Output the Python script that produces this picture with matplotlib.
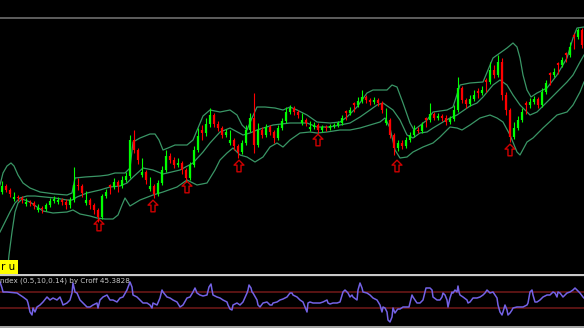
import matplotlib.pyplot as plt
from matplotlib.path import Path

# candle data in chart units (screen-like: smaller value = higher price)
candle_x = [2 + 4 * i for i in range(146)]
opens = [192, 186, 190, 199, 197, 198, 204, 202, 203, 210, 208, 209, 205, 201, 202, 200, 202, 205,
         200, 185, 186, 203, 200, 205, 210, 217, 196, 185, 187, 182, 186, 180, 176, 140, 150, 175,
         172, 189, 186, 194, 183, 170, 156, 160, 165, 163, 170, 178, 165, 150, 130, 133, 124, 115,
         124, 128, 135, 143, 140, 146, 152, 143, 130, 118, 145, 130, 135, 127, 132, 138, 128, 121,
         112, 108, 112, 123, 120, 129, 127, 125, 130, 127, 128, 126, 125, 123, 111, 113, 103, 105,
         101, 97, 100, 102, 100, 103, 123, 120, 135, 148, 143, 146, 140, 135, 130, 131, 118, 120,
         114, 118, 116, 118, 122, 119, 110, 88, 100, 104, 99, 91, 93, 80, 82, 70, 75, 62,
         95, 110, 137, 128, 120, 103, 105, 102, 99, 105, 92, 73, 75, 63, 65, 53, 55, 35,
         37, 30]
closes = [186, 190, 194, 197, 198, 200, 202, 203, 206, 208, 209, 205, 201, 199, 200, 202, 205, 200,
          185, 186, 193, 200, 205, 210, 217, 196, 192, 187, 182, 186, 180, 176, 140, 150, 160, 172,
          180, 186, 194, 183, 170, 156, 160, 165, 163, 170, 178, 165, 150, 136, 133, 124, 115, 124,
          128, 135, 132, 140, 146, 152, 143, 130, 118, 145, 130, 135, 127, 132, 138, 128, 121, 112,
          108, 112, 115, 120, 123, 127, 125, 130, 127, 128, 126, 125, 123, 118, 113, 110, 105, 101,
          97, 100, 102, 100, 103, 110, 120, 135, 148, 143, 146, 140, 135, 130, 131, 125, 120, 114,
          118, 116, 118, 122, 119, 110, 88, 100, 104, 99, 95, 93, 90, 82, 70, 75, 62, 95,
          110, 137, 128, 120, 112, 105, 102, 99, 105, 92, 83, 75, 72, 65, 60, 55, 47, 37,
          30, 45]
highs = [181, 184, 188, 192, 195, 196, 198, 200, 201, 204, 206, 203, 198, 196, 197, 198, 199, 197,
         167, 178, 184, 191, 198, 203, 208, 194, 189, 184, 178, 180, 176, 172, 135, 130, 148, 158,
         170, 177, 184, 180, 166, 150, 153, 157, 158, 161, 168, 162, 146, 128, 125, 118, 108, 113,
         121, 126, 129, 130, 138, 144, 140, 125, 113, 93, 123, 127, 124, 125, 130, 125, 118, 107,
         105, 106, 110, 113, 118, 121, 122, 123, 125, 125, 124, 123, 121, 115, 110, 107, 102, 97,
         90, 95, 98, 97, 98, 101, 108, 118, 133, 140, 140, 137, 132, 125, 127, 122, 117, 103,
         112, 113, 114, 115, 116, 105, 77, 86, 98, 95, 90, 88, 86, 78, 62, 65, 55, 58,
         92, 108, 122, 116, 108, 101, 98, 96, 97, 88, 80, 72, 68, 62, 57, 52, 42, 33,
         28, 28]
lows = [194, 192, 197, 201, 201, 203, 206, 206, 209, 212, 213, 211, 207, 203, 204, 205, 209, 208,
        202, 190, 197, 205, 209, 214, 222, 219, 198, 194, 189, 192, 188, 182, 178, 153, 164, 177,
        184, 191, 198, 196, 185, 172, 163, 168, 167, 174, 182, 180, 167, 152, 140, 136, 127, 127,
        131, 138, 137, 145, 150, 158, 154, 145, 132, 153, 147, 138, 137, 135, 143, 140, 130, 123,
        114, 115, 118, 125, 126, 131, 129, 133, 132, 131, 130, 128, 127, 125, 120, 115, 112, 107,
        103, 103, 105, 104, 106, 113, 125, 138, 155, 151, 149, 148, 142, 137, 133, 133, 127, 122,
        120, 120, 121, 125, 124, 121, 112, 103, 108, 106, 101, 98, 95, 92, 84, 78, 77, 100,
        115, 142, 139, 130, 122, 114, 108, 104, 108, 107, 94, 85, 77, 74, 67, 62, 57, 49,
        39, 48]

# bollinger bands
upper_x = [0, 3, 7, 11, 14, 18, 23, 30, 40, 55, 67, 72, 75, 85, 100, 108, 115, 125, 130, 133, 140,
           150, 155, 159, 163, 168, 175, 187, 193, 198, 203, 210, 220, 230, 237, 242, 247, 252, 257,
           265, 275, 283, 290, 297, 307, 317, 330, 340, 347, 357, 362, 367, 373, 387, 392, 397, 403,
           410, 414, 418, 427, 433, 447, 453, 460, 470, 483, 493, 500, 507, 513, 517, 520, 523, 527,
           531, 537, 547, 557, 567, 573, 577, 584]
upper_y = [185, 173, 166, 163, 166, 175, 183, 188, 192, 194, 195, 193, 178, 177, 176, 175, 173, 173,
           168, 142, 138, 134, 134, 140, 150, 148, 145, 145, 140, 128, 116, 110, 112, 110, 115, 125,
           130, 118, 107, 107, 108, 110, 107, 110, 115, 122, 123, 122, 117, 107, 100, 93, 90, 90,
           85, 87, 103, 123, 130, 127, 120, 112, 110, 107, 85, 83, 82, 58, 53, 48, 43, 47, 58, 75,
           90, 97, 93, 88, 75, 58, 38, 28, 27]
middle_x = [0, 5, 10, 15, 20, 27, 35, 45, 55, 67, 72, 77, 87, 100, 110, 120, 127, 133, 143, 153, 163,
            180, 193, 203, 210, 220, 230, 243, 250, 257, 273, 290, 307, 317, 330, 340, 350, 360, 370,
            377, 383, 393, 400, 407, 413, 420, 427, 433, 443, 450, 457, 470, 477, 483, 493, 500, 507,
            513, 520, 527, 530, 537, 547, 557, 567, 573, 580, 584]
middle_y = [232, 222, 212, 203, 198, 196, 196, 197, 198, 200, 200, 197, 193, 190, 187, 186, 183, 177,
            168, 170, 174, 170, 163, 152, 143, 132, 128, 135, 133, 130, 125, 123, 123, 127, 127, 125,
            123, 117, 110, 105, 103, 110, 120, 135, 138, 133, 132, 128, 122, 118, 115, 106, 103, 97,
            85, 80, 85, 95, 105, 112, 115, 112, 102, 92, 82, 75, 62, 55]
lower_x = [7, 9, 12, 15, 18, 22, 30, 37, 43, 53, 67, 73, 80, 90, 97, 105, 113, 118, 122, 125, 130,
           140, 153, 163, 177, 187, 197, 207, 215, 220, 227, 233, 240, 247, 255, 263, 270, 277, 283,
           290, 300, 310, 317, 327, 340, 350, 360, 370, 380, 385, 390, 395, 400, 407, 413, 423, 433,
           440, 450, 457, 462, 470, 480, 490, 497, 503, 510, 517, 520, 527, 533, 543, 557, 567, 573,
           580, 584]
lower_y = [275, 255, 232, 212, 203, 199, 202, 207, 211, 213, 212, 210, 214, 216, 218, 219, 219, 215,
           205, 198, 206, 200, 195, 192, 187, 180, 185, 183, 170, 160, 153, 148, 155, 157, 162, 157,
           147, 143, 147, 140, 133, 132, 133, 132, 130, 130, 128, 125, 122, 118, 128, 150, 158, 157,
           152, 147, 143, 137, 127, 128, 130, 125, 118, 115, 118, 122, 135, 152, 155, 142, 138, 128,
           115, 112, 105, 92, 82]

# signal arrows
arrow_x = [99, 153, 187, 239, 318, 397, 510]
arrow_y = [225, 206, 187, 166, 140, 166, 150]

# oscillator
osc_x = [0, 2, 3, 7, 17, 23, 27, 28, 30, 32, 33, 35, 37, 40, 43, 47, 50, 53, 57, 60, 62, 63, 67, 70,
         72, 73, 75, 77, 80, 83, 87, 90, 93, 97, 98, 100, 103, 107, 110, 113, 117, 120, 123, 127,
         130, 132, 133, 137, 140, 143, 147, 150, 152, 153, 157, 160, 162, 163, 167, 170, 173, 177,
         180, 183, 187, 190, 193, 195, 197, 200, 203, 207, 209, 211, 212, 213, 217, 220, 223, 227,
         228, 230, 232, 233, 237, 240, 243, 247, 248, 249, 251, 252, 253, 257, 258, 260, 263, 267,
         270, 272, 273, 277, 280, 283, 287, 290, 292, 293, 297, 300, 303, 305, 307, 308, 310, 313,
         317, 320, 323, 327, 328, 330, 333, 337, 340, 343, 345, 347, 348, 350, 352, 353, 357, 358,
         360, 362, 363, 367, 370, 373, 377, 380, 382, 383, 385, 387, 388, 390, 392, 393, 395, 397,
         398, 400, 403, 407, 409, 410, 412, 413, 415, 417, 420, 423, 425, 426, 430, 432, 433, 437,
         440, 442, 443, 445, 447, 448, 450, 452, 453, 455, 457, 458, 459, 460, 463, 467, 468, 470,
         473, 477, 480, 483, 485, 487, 490, 493, 497, 498, 500, 502, 503, 505, 507, 508, 510, 512,
         513, 517, 520, 523, 527, 528, 530, 532, 533, 535, 537, 540, 543, 547, 550, 553, 555, 557,
         558, 560, 563, 567, 570, 573, 575, 577, 580, 583, 584]
osc_y = [282, 288, 292, 292, 293, 297, 300, 303, 312, 315, 308, 312, 307, 305, 302, 297, 300, 298,
         300, 297, 302, 305, 303, 300, 293, 283, 292, 293, 300, 303, 307, 307, 305, 303, 308, 300,
         297, 295, 300, 300, 302, 298, 297, 290, 282, 287, 295, 297, 300, 303, 303, 305, 308, 303,
         305, 298, 290, 292, 297, 298, 300, 302, 307, 305, 298, 297, 292, 288, 293, 295, 296, 295,
         287, 284, 290, 295, 297, 298, 300, 302, 305, 309, 310, 305, 303, 305, 302, 293, 290, 285,
         288, 292, 293, 300, 305, 307, 303, 302, 305, 305, 303, 302, 300, 299, 297, 293, 293, 295,
         297, 300, 302, 307, 312, 303, 302, 303, 303, 303, 302, 300, 303, 304, 303, 303, 302, 292,
         290, 292, 293, 297, 295, 297, 300, 290, 283, 288, 292, 293, 295, 298, 300, 305, 312, 307,
         308, 312, 320, 322, 317, 308, 313, 310, 309, 309, 307, 307, 307, 303, 295, 297, 300, 303,
         303, 300, 292, 288, 288, 290, 297, 300, 300, 297, 293, 295, 300, 307, 298, 292, 293, 290,
         292, 286, 292, 295, 297, 300, 303, 302, 298, 298, 297, 295, 293, 290, 293, 292, 298, 305,
         312, 315, 312, 305, 310, 315, 313, 310, 308, 307, 307, 307, 305, 303, 292, 290, 295, 302,
         302, 300, 297, 295, 295, 292, 293, 297, 292, 293, 297, 293, 292, 290, 288, 290, 293, 297,
         298]
osc_levels = [292, 308]

fig = plt.figure(figsize=(5.84, 3.28), dpi=100, facecolor='black')

ax = fig.add_axes([0, 54 / 328, 1, 257 / 328])
ax.set_facecolor('black')
ax.set_xlim(0, 584)
ax.set_ylim(274, 17)
ax.axis('off')

axo = fig.add_axes([0, 0, 1, 54 / 328])
axo.set_facecolor('black')
axo.set_xlim(0, 584)
axo.set_ylim(328, 274)
axo.axis('off')

# bands
band_color = '#3a9666'
ax.plot(upper_x, upper_y, color=band_color, lw=0.9)
ax.plot(middle_x, middle_y, color=band_color, lw=0.9)
ax.plot(lower_x, lower_y, color=band_color, lw=0.9)

# candles
colors = ['#00ff00' if c < o else '#ff0000' for o, c in zip(opens, closes)]
ax.vlines(candle_x, highs, lows, colors=colors, lw=0.8)
ax.vlines(candle_x, opens, closes, colors=colors, lw=1.6)

# hollow up arrows
arrow_shape = Path([(0, 1), (0.85, 0.15), (0.35, 0.15), (0.35, -1), (-0.35, -1),
                    (-0.35, 0.15), (-0.85, 0.15), (0, 1)],
                   [Path.MOVETO] + [Path.LINETO] * 6 + [Path.CLOSEPOLY])
ax.scatter(arrow_x, arrow_y, marker=arrow_shape, s=70, facecolors='none',
           edgecolors='#d00000', linewidths=1.0)

# frame lines
ax.axhline(17.5, color='#6e6e6e', lw=1.2, clip_on=False)
axo.axhline(274.8, color='#c8c8c8', lw=1.6)
axo.axhline(326.8, color='#c8c8c8', lw=1.2)

# label box
ax.text(1, 267.5, 'r u', color='black', fontsize=7.5, ha='left', va='center',
        bbox=dict(boxstyle='square,pad=0.25', facecolor='#ffff00', edgecolor='none'))

# oscillator
for lvl in osc_levels:
    axo.axhline(lvl, color='#5a1414', lw=1.4)
axo.plot(osc_x, osc_y, color='#7462e6', lw=1.1)
axo.text(0, 281, 'ndex (0.5,10,0.14) by Croff 45.3828', color='#c8c8c8', fontsize=5.2,
         ha='left', va='center')

fig.savefig('out.png', dpi=100, facecolor='black')
